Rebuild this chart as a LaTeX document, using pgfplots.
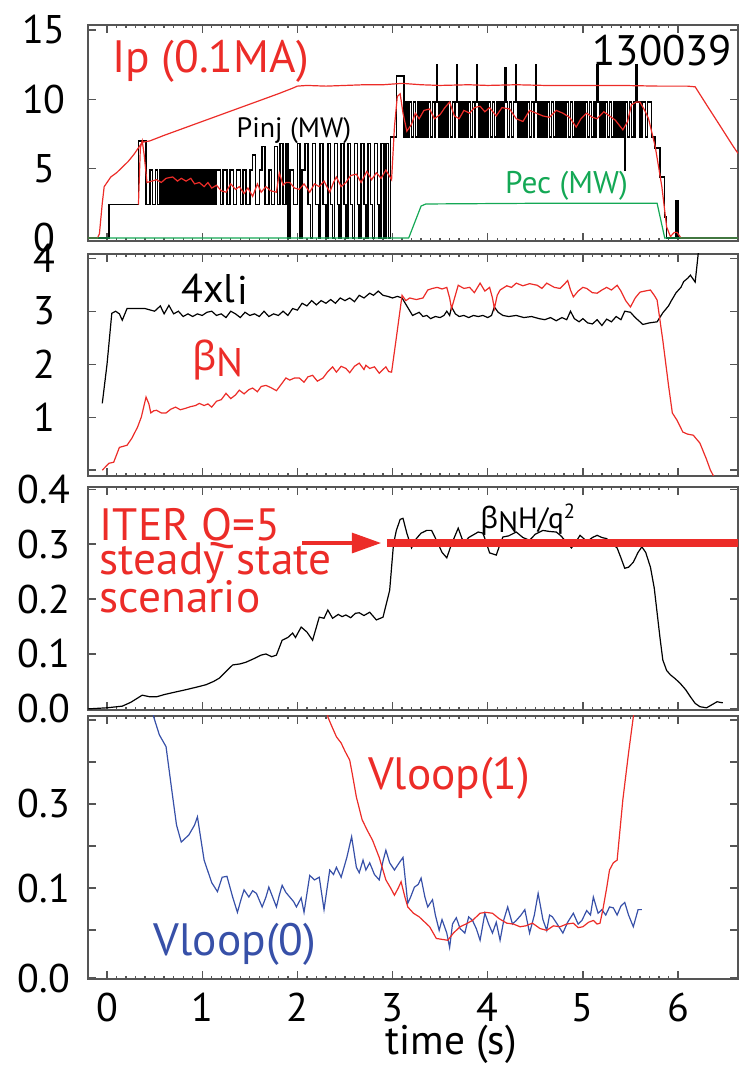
\documentclass[border=0pt]{standalone}
\usepackage{fontspec}
\setmainfont{PT Sans}
\newfontfamily\grk{Noto Sans}
\usepackage{pgfplots}
\pgfplotsset{compat=1.18}
\usetikzlibrary{arrows.meta}
\definecolor{ired}{RGB}{236,44,40}
\definecolor{igreen}{RGB}{20,168,85}
\definecolor{iblue}{RGB}{55,80,168}
\definecolor{frm}{RGB}{85,85,85}
\tikzset{lab/.style={inner sep=0pt, anchor=base west}}
\pgfplotsset{
  panel/.style={scale only axis, width=487.5pt, xmin=-0.2, xmax=6.63,
    axis line style={frm,line width=1.3pt},
    tick style={frm,line width=1pt},
    major tick length=6pt, minor tick length=2.5pt, tick align=inside,
    xtick={0,1,2,3,4,5,6}, minor x tick num=9, xticklabels={},
    /pgf/number format/assume math mode=true,
    tick label style={font=\fontsize{30}{32}\selectfont, black},
    yticklabel style={anchor=center, xshift=-33pt},
    every axis plot/.append style={line width=0.9pt},
  }
}
\begin{document}
\begin{tikzpicture}
\path[use as bounding box] (0pt,0pt) rectangle (555pt,798.75pt);
% ---------------- Panel 1 ----------------
\begin{axis}[panel, at={(66pt,780pt)}, anchor=north west, height=162pt,
  ymin=-0.22, ymax=15.36, ytick={0,5,10,15}, yticklabels={0,5,10,15}]
\addplot[black, const plot mark left, line width=1.15pt] coordinates {
(-0.2,0)(0.02,2.4)(0.33,7.0)(0.41,2.4)(0.45,4.9)(0.48,2.4)(0.51,4.9)(0.53,2.4)
(0.55,4.9)(0.565,2.4)(0.58,4.9)(0.595,2.4)(0.61,4.9)(0.625,2.4)(0.64,4.9)(0.655,2.4)
(0.67,4.9)(0.685,2.4)(0.70,4.9)(0.715,2.4)(0.73,4.9)(0.745,2.4)(0.76,4.9)(0.775,2.4)
(0.79,4.9)(0.805,2.4)(0.82,4.9)(0.835,2.4)(0.85,4.9)(0.865,2.4)(0.88,4.9)(0.895,2.4)
(0.91,4.9)(0.925,2.4)(0.94,4.9)(0.955,2.4)(0.97,4.9)(0.985,2.4)(1.00,4.9)(1.015,2.4)
(1.03,4.9)(1.045,2.4)(1.06,4.9)(1.075,2.4)(1.09,4.9)(1.105,2.4)(1.12,4.9)(1.135,2.4)
(1.15,4.9)(1.19,2.4)(1.22,4.9)(1.26,2.4)(1.29,4.9)(1.33,2.4)(1.36,4.9)(1.40,2.4)
(1.43,4.9)(1.46,2.4)(1.50,4.9)(1.53,6.0)(1.56,2.4)(1.60,4.9)(1.63,6.6)(1.66,2.4)
(1.70,4.9)(1.73,2.4)(1.76,6.6)(1.79,2.4)(1.82,6.8)(1.85,2.4)(1.88,6.8)(1.90,0)
(1.92,4.9)(1.96,2.4)(2.00,6.8)(2.03,0)(2.05,4.9)(2.08,6.8)(2.11,2.4)(2.14,0)
(2.16,6.8)(2.19,2.4)(2.22,0)(2.24,6.8)(2.27,2.4)(2.30,0)(2.32,6.8)(2.35,2.4)
(2.37,0)(2.39,6.8)(2.42,2.4)(2.44,0)(2.46,6.8)(2.49,2.4)(2.51,0)(2.53,6.8)
(2.56,2.4)(2.58,0)(2.60,6.8)(2.63,2.4)(2.65,0)(2.67,6.8)(2.70,2.4)(2.72,0)
(2.74,6.8)(2.77,2.4)(2.79,0)(2.81,6.8)(2.84,2.4)(2.86,0)(2.88,6.8)(2.91,0)
(2.93,6.8)(2.96,0)(2.98,7.3)(3.04,11.7)(3.12,7.3)(3.14,9.8)(3.16,7.3)(3.18,9.8)
(3.20,7.3)(3.22,9.8)(3.24,7.3)(3.26,9.8)(3.28,7.3)(3.30,9.8)(3.32,7.3)(3.34,9.8)
(3.36,7.3)(3.38,9.8)(3.40,7.3)(3.42,9.8)(3.44,7.3)(3.45,9.8)(3.46,12.5)(3.47,9.8)
(3.49,7.3)(3.51,9.8)(3.53,7.3)(3.55,9.8)(3.57,7.3)(3.59,9.8)(3.61,7.3)(3.63,9.8)
(3.65,7.3)(3.66,9.8)(3.67,12.5)(3.68,9.8)(3.70,7.3)(3.72,9.8)(3.74,7.3)(3.76,9.8)
(3.78,7.3)(3.80,9.8)(3.82,7.3)(3.84,9.8)(3.86,7.3)(3.87,9.8)(3.88,12.5)(3.89,9.8)
(3.91,7.3)(3.93,9.8)(3.95,7.3)(3.97,9.8)(3.99,7.3)(4.01,9.8)(4.03,7.3)(4.05,9.8)
(4.07,7.3)(4.09,9.8)(4.11,7.3)(4.13,9.8)(4.15,7.3)(4.17,9.8)(4.18,12.3)(4.19,9.8)
(4.21,7.3)(4.23,9.8)(4.25,7.3)(4.27,9.8)(4.29,12.5)(4.30,9.8)(4.32,7.3)(4.34,9.8)
(4.36,7.3)(4.38,9.8)(4.40,7.3)(4.42,9.8)(4.44,7.3)(4.46,9.8)(4.48,7.3)(4.49,9.8)
(4.50,12.5)(4.51,9.8)(4.53,7.3)(4.55,9.8)(4.57,7.3)(4.59,9.8)(4.61,7.3)(4.63,9.8)
(4.65,7.3)(4.67,9.8)(4.69,7.3)(4.71,9.8)(4.73,7.3)(4.75,9.8)(4.77,7.3)(4.79,9.8)
(4.81,7.3)(4.83,9.8)(4.85,7.3)(4.87,9.8)(4.89,7.3)(4.91,9.8)(4.93,7.3)(4.95,9.8)
(4.97,7.3)(4.99,9.8)(5.01,7.3)(5.03,9.8)(5.05,7.3)(5.07,9.8)(5.09,7.3)(5.11,9.8)
(5.13,7.3)(5.14,9.8)(5.15,12.5)(5.16,9.8)(5.18,7.3)(5.20,9.8)(5.22,7.3)(5.24,9.8)
(5.26,7.3)(5.28,9.8)(5.30,7.3)(5.32,9.8)(5.34,7.3)(5.36,9.8)(5.38,7.3)(5.40,9.8)
(5.42,7.3)(5.43,9.8)(5.44,4.9)(5.45,9.8)(5.47,7.3)(5.49,9.8)(5.51,7.3)(5.53,9.8)
(5.55,7.3)(5.555,9.8)(5.56,12.5)(5.57,9.8)(5.60,7.3)(5.62,9.8)(5.66,7.3)(5.68,9.8)
(5.72,7.3)(5.76,6.5)(5.81,4.4)(5.86,1.5)(5.88,0)(5.98,2.7)(6.00,0)(6.63,0)};
\addplot[ired] coordinates {
(0.33,2.4)(0.35,6.5)(0.37,7.0)(0.39,6.0)(0.42,4.0)(0.47,4.1)
(0.52,4.2)(0.57,4.0)(0.62,4.3)(0.69,4.4)(0.74,4.1)(0.78,4.3)(0.83,4.1)(0.88,4.3)
(0.92,3.9)(0.97,4.0)(1.02,3.7)(1.06,4.0)(1.1,3.6)(1.15,3.8)(1.2,3.4)(1.25,3.3)
(1.3,3.9)(1.35,3.5)(1.39,3.7)(1.44,3.2)(1.48,3.6)(1.53,3.0)(1.58,3.9)(1.62,3.3)
(1.67,3.7)(1.72,3.4)(1.78,3.3)(1.81,4.7)(1.85,3.8)(1.88,4.0)(1.92,4.0)(1.97,3.6)
(2.02,3.5)(2.07,3.9)(2.13,3.3)(2.18,3.9)(2.23,3.7)(2.28,4.1)(2.34,3.3)(2.38,4.0)
(2.41,4.4)(2.46,3.7)(2.51,4.0)(2.56,4.5)(2.62,4.6)(2.67,4.0)(2.73,4.8)(2.78,4.2)
(2.83,4.7)(2.88,4.3)(2.93,4.9)(2.99,4.2)(3.02,8.0)(3.05,10.2)(3.08,10.4)(3.11,9.0)
(3.15,7.7)(3.2,8.2)(3.24,9.0)(3.28,8.6)(3.33,9.2)(3.39,9.3)(3.44,8.6)(3.5,8.9)
(3.55,9.4)(3.6,9.8)(3.65,8.8)(3.7,8.6)(3.75,9.2)(3.81,9.0)(3.86,9.4)(3.92,9.5)
(3.97,9.1)(4.02,9.4)(4.09,8.8)(4.15,9.4)(4.23,9.3)(4.3,8.6)(4.37,8.4)(4.44,9.2)
(4.51,9.0)(4.58,8.8)(4.65,8.7)(4.72,9.2)(4.79,9.0)(4.86,8.7)(4.93,8.0)(4.98,8.6)
(5.04,9.0)(5.1,8.7)(5.15,8.6)(5.22,9.1)(5.28,8.8)(5.34,8.5)(5.42,7.8)(5.47,8.4)
(5.51,9.6)(5.56,9.8)(5.6,9.8)(5.65,9.2)(5.69,8.6)(5.76,6.6)(5.83,3.7)(5.88,0.8)
(5.92,0.1)(5.96,0.4)(5.99,0.4)(6.03,0.0)(6.63,0)};
\addplot[ired] coordinates {
(-0.2,0)(-0.1,0)(-0.08,0.3)(-0.05,2.5)(-0.03,3.7)(0.0,4.0)(0.04,4.4)(0.1,4.7)
(0.16,5.1)(0.22,5.5)(0.28,6.0)(0.32,6.4)(0.37,6.9)(0.45,7.0)(0.6,7.4)(0.8,7.9)
(1.0,8.4)(1.2,8.9)(1.4,9.4)(1.6,9.9)(1.8,10.4)(1.95,10.8)(2.0,10.95)(2.1,11.0)
(2.3,10.95)(2.5,11.0)(2.7,11.05)(2.9,11.05)(3.0,11.1)(3.1,11.15)(3.3,11.05)
(3.5,11.0)(3.8,11.05)(4.0,11.0)(4.3,11.05)(4.6,11.0)(5.0,11.0)(5.4,11.0)
(5.8,10.95)(6.1,10.95)(6.18,10.9)(6.3,9.6)(6.45,8.0)(6.58,6.6)(6.63,6.1)};
\addplot[igreen] coordinates {
(-0.2,0)(3.17,0)(3.3,2.3)(3.35,2.45)(4.5,2.5)(5.78,2.5)(5.86,0)(6.63,0)};
\node[lab, ired, font=\fontsize{34}{36}\selectfont] at (axis cs:0.05,11.9) {Ip (0.1MA)};
\node[inner sep=0pt, anchor=base east, black, font=\fontsize{32}{34}\selectfont] at (axis cs:6.57,12.47) {130039};
\node[lab, black, font=\fontsize{21}{23}\selectfont] at (axis cs:1.36,7.28) {Pinj (MW)};
\node[lab, igreen, font=\fontsize{23.5}{25}\selectfont] at (axis cs:4.18,3.24) {Pec (MW)};
\end{axis}
% ---------------- Panel 2 ----------------
\begin{axis}[panel, at={(66pt,608.25pt)}, anchor=north west, height=166.5pt,
  ymin=-0.11, ymax=4.08, ytick={0,1,2,3,4}, yticklabels={,1,2,3,4}]
\addplot[black] coordinates {
(-0.05,1.26)(0.0,2.0)(0.05,2.96)(0.09,3.0)(0.13,2.95)(0.16,2.83)(0.21,3.05)(0.3,3.05)
(0.4,3.05)(0.5,3.0)(0.56,3.1)(0.6,2.95)(0.65,3.11)(0.7,2.95)(0.75,3.0)(0.8,2.9)
(0.85,2.95)(0.9,2.9)(0.95,2.95)(1.0,2.92)(1.05,2.98)(1.1,3.0)(1.15,2.92)(1.2,2.95)
(1.25,2.88)(1.3,3.0)(1.35,2.95)(1.4,2.88)(1.45,2.98)(1.5,2.92)(1.55,2.95)(1.6,2.9)
(1.65,3.0)(1.7,2.9)(1.75,2.95)(1.8,2.92)(1.85,3.0)(1.9,2.92)(1.95,3.05)(2.0,3.02)
(2.05,3.15)(2.1,3.1)(2.15,3.2)(2.2,3.12)(2.25,3.2)(2.3,3.15)(2.35,3.22)(2.4,3.15)
(2.45,3.25)(2.5,3.2)(2.55,3.25)(2.6,3.18)(2.65,3.3)(2.7,3.25)(2.76,3.34)(2.8,3.3)
(2.85,3.38)(2.9,3.3)(2.95,3.28)(3.0,3.25)(3.05,3.28)(3.1,3.25)(3.15,3.1)(3.21,2.92)
(3.28,2.98)(3.32,2.9)(3.36,2.92)(3.4,2.86)(3.45,2.9)(3.5,2.88)(3.54,2.92)(3.57,3.0)
(3.6,2.92)(3.62,3.08)(3.66,2.95)(3.7,2.9)(3.75,2.92)(3.8,2.88)(3.85,2.92)(3.9,2.9)
(3.95,2.92)(4.0,2.88)(4.04,2.92)(4.07,3.08)(4.11,2.98)(4.16,2.92)(4.22,2.9)(4.3,2.92)
(4.38,2.88)(4.46,2.9)(4.54,2.86)(4.6,2.84)(4.66,2.88)(4.72,2.82)(4.78,2.88)(4.83,2.84)
(4.87,3.0)(4.91,2.86)(4.96,2.8)(5.0,2.86)(5.05,2.78)(5.1,2.76)(5.15,2.84)(5.2,2.73)
(5.25,2.85)(5.3,2.8)(5.35,2.9)(5.4,2.84)(5.44,3.0)(5.5,2.98)(5.55,2.88)(5.6,2.8)
(5.63,2.75)(5.7,2.78)(5.78,2.8)(5.84,2.97)(5.9,3.1)(5.93,3.2)(5.98,3.35)(6.03,3.45)
(6.06,3.56)(6.1,3.62)(6.13,3.68)(6.18,3.55)(6.21,4.05)(6.23,4.5)};
\addplot[ired] coordinates {
(-0.05,0.0)(0.02,0.13)(0.07,0.15)(0.13,0.43)(0.17,0.45)(0.21,0.47)(0.26,0.6)(0.32,0.81)
(0.36,1.0)(0.41,1.38)(0.44,1.25)(0.46,1.08)(0.49,1.12)(0.52,1.13)(0.57,1.08)(0.62,1.08)
(0.67,1.15)(0.72,1.19)(0.77,1.14)(0.83,1.17)(0.88,1.2)(0.93,1.22)(0.97,1.26)(1.02,1.22)
(1.06,1.25)(1.1,1.19)(1.15,1.3)(1.2,1.33)(1.25,1.45)(1.3,1.35)(1.35,1.42)(1.39,1.51)
(1.44,1.44)(1.49,1.52)(1.53,1.55)(1.58,1.48)(1.62,1.58)(1.67,1.6)(1.72,1.56)(1.78,1.5)
(1.83,1.62)(1.88,1.74)(1.92,1.7)(1.97,1.74)(2.02,1.74)(2.07,1.66)(2.11,1.76)(2.16,1.79)
(2.21,1.68)(2.27,1.74)(2.32,1.86)(2.37,1.95)(2.41,1.85)(2.46,1.96)(2.51,1.92)(2.55,1.84)
(2.6,1.96)(2.65,2.02)(2.7,1.9)(2.72,1.98)(2.76,1.92)(2.81,1.95)(2.86,1.83)(2.9,1.9)
(2.93,1.95)(2.96,1.86)(2.99,1.85)(3.04,2.5)(3.1,3.3)(3.14,3.2)(3.18,3.25)(3.25,3.22)
(3.32,3.25)(3.37,3.4)(3.42,3.43)(3.47,3.45)(3.52,3.42)(3.57,3.45)(3.6,3.25)(3.62,3.05)
(3.66,3.3)(3.69,3.49)(3.75,3.43)(3.81,3.45)(3.86,3.35)(3.92,3.53)(3.97,3.38)(4.02,3.45)
(4.05,3.25)(4.07,3.05)(4.1,3.3)(4.13,3.4)(4.2,3.48)(4.25,3.45)(4.3,3.53)(4.37,3.48)
(4.44,3.52)(4.52,3.49)(4.57,3.43)(4.62,3.53)(4.7,3.45)(4.76,3.43)(4.8,3.5)(4.84,3.58)
(4.87,3.4)(4.9,3.27)(4.95,3.38)(5.0,3.45)(5.04,3.43)(5.1,3.35)(5.15,3.34)(5.2,3.4)
(5.25,3.45)(5.3,3.4)(5.36,3.49)(5.4,3.38)(5.45,3.2)(5.5,3.08)(5.55,3.25)(5.6,3.36)
(5.65,3.38)(5.71,3.4)(5.75,3.3)(5.78,3.21)(5.84,2.45)(5.9,1.6)(5.94,1.08)(5.99,0.94)
(6.05,0.72)(6.1,0.68)(6.16,0.66)(6.23,0.51)(6.3,0.2)(6.34,0.0)(6.4,-0.2)};
\node[lab, black, font=\fontsize{30}{32}\selectfont] at (axis cs:0.78,3.17) {4xl\kern1.5pt\raisebox{-1.5pt}{i}};
\node[lab, ired, font=\fontsize{30}{32}\selectfont] at (axis cs:0.89,1.89) {{\grk β}\raisebox{-5pt}{N}};
\end{axis}
% ---------------- Panel 3 ----------------
\begin{axis}[panel, at={(66pt,433.5pt)}, anchor=north west, height=167.25pt,
  ymin=-0.002, ymax=0.404, ytick={0,0.1,0.2,0.3,0.4}, yticklabels={0.0,0.1,0.2,0.3,0.4}]
\addplot[black] coordinates {
(-0.2,0.0)(0.0,0.002)(0.16,0.005)(0.25,0.012)(0.37,0.025)(0.45,0.022)(0.52,0.022)
(0.6,0.026)(0.7,0.03)(0.83,0.035)(0.95,0.04)(1.04,0.044)(1.12,0.05)(1.18,0.056)
(1.25,0.068)(1.32,0.08)(1.4,0.082)(1.46,0.085)(1.55,0.092)(1.62,0.098)(1.67,0.1)
(1.73,0.095)(1.78,0.098)(1.84,0.125)(1.9,0.13)(1.95,0.138)(1.98,0.13)(2.04,0.149)
(2.1,0.14)(2.16,0.125)(2.23,0.167)(2.28,0.165)(2.32,0.18)(2.37,0.165)(2.43,0.172)
(2.47,0.168)(2.51,0.171)(2.56,0.166)(2.61,0.174)(2.65,0.175)(2.7,0.17)(2.76,0.176)
(2.83,0.162)(2.9,0.167)(2.97,0.216)(3.01,0.3)(3.04,0.325)(3.08,0.345)(3.11,0.347)
(3.15,0.32)(3.2,0.293)(3.25,0.31)(3.3,0.32)(3.36,0.325)(3.41,0.325)(3.47,0.304)
(3.52,0.285)(3.57,0.275)(3.62,0.3)(3.69,0.329)(3.73,0.31)(3.76,0.304)(3.8,0.312)
(3.84,0.316)(3.9,0.322)(3.95,0.32)(3.99,0.3)(4.02,0.284)(4.09,0.28)(4.13,0.3)
(4.16,0.313)(4.22,0.315)(4.3,0.322)(4.37,0.312)(4.44,0.307)(4.5,0.318)(4.58,0.325)
(4.65,0.323)(4.72,0.322)(4.77,0.315)(4.81,0.307)(4.88,0.293)(4.93,0.305)(4.97,0.316)
(5.01,0.31)(5.04,0.304)(5.1,0.312)(5.15,0.316)(5.2,0.312)(5.25,0.31)(5.31,0.3)
(5.36,0.293)(5.4,0.275)(5.44,0.256)(5.48,0.258)(5.53,0.267)(5.58,0.285)(5.62,0.295)
(5.66,0.285)(5.71,0.258)(5.75,0.22)(5.78,0.175)(5.81,0.13)(5.84,0.089)(5.88,0.07)
(5.92,0.062)(5.97,0.055)(6.02,0.047)(6.08,0.035)(6.13,0.022)(6.18,0.01)(6.23,0.004)
(6.3,0.002)(6.36,0.008)(6.41,0.013)(6.47,0.011)};
\addplot[ired, line width=6pt] coordinates {(2.94,0.302)(6.7,0.302)};
\addplot[ired, line width=2.5pt, -{Triangle[length=22pt,width=15pt]}] coordinates {(2.05,0.302)(2.88,0.302)};
\node[lab, ired, font=\fontsize{34}{36}\selectfont] at (axis cs:-0.08,0.307) {ITER Q=5};
\node[lab, ired, font=\fontsize{34}{36}\selectfont] at (axis cs:-0.08,0.244) {steady state};
\node[lab, ired, font=\fontsize{34}{36}\selectfont] at (axis cs:-0.08,0.175) {scenario};
\node[lab, black, font=\fontsize{22}{24}\selectfont] at (axis cs:3.92,0.329) {{\grk β}\raisebox{-3.5pt}{N}H/q\textsuperscript{2}};
\end{axis}
% ---------------- Panel 4 ----------------
\begin{axis}[panel, at={(66pt,261.75pt)}, anchor=north west, height=197.25pt,
  ymin=-0.001, ymax=0.291,
  ytick={0,0.05333,0.1,0.14667,0.19333,0.24,0.28667}, yticklabels={0.0,,0.1,,0.3,,},
  xticklabels={0,1,2,3,4,5,6},
  xticklabel style={anchor=base, yshift=-32pt, inner sep=0pt},
  xlabel={time (s)},
  xlabel style={at={(axis description cs:0.559,0)}, anchor=base, yshift=-57pt, inner sep=0pt, font=\fontsize{31}{33}\selectfont}]
\addplot[iblue] coordinates {
(0.45,0.34)(0.49,0.29)(0.55,0.27)(0.62,0.257)(0.68,0.209)(0.73,0.17)(0.78,0.151)
(0.86,0.159)(0.92,0.17)(0.95,0.179)(1.02,0.131)(1.1,0.106)(1.16,0.096)(1.21,0.112)
(1.26,0.113)(1.32,0.09)(1.37,0.073)(1.41,0.088)(1.44,0.098)(1.49,0.09)(1.53,0.097)
(1.57,0.094)(1.63,0.079)(1.67,0.09)(1.7,0.101)(1.74,0.09)(1.78,0.079)(1.81,0.092)
(1.84,0.103)(1.88,0.095)(1.92,0.09)(1.96,0.085)(1.99,0.079)(2.04,0.089)(2.07,0.073)
(2.13,0.114)(2.18,0.109)(2.23,0.112)(2.28,0.076)(2.34,0.12)(2.38,0.115)(2.41,0.123)
(2.46,0.112)(2.52,0.134)(2.57,0.157)(2.62,0.123)(2.65,0.117)(2.69,0.131)(2.72,0.12)
(2.76,0.128)(2.81,0.115)(2.86,0.109)(2.9,0.13)(2.93,0.142)(2.97,0.128)(3.02,0.12)
(3.07,0.128)(3.11,0.134)(3.16,0.083)(3.19,0.09)(3.23,0.101)(3.27,0.104)(3.3,0.111)
(3.34,0.09)(3.37,0.079)(3.42,0.087)(3.45,0.07)(3.49,0.053)(3.52,0.065)(3.57,0.05)
(3.6,0.034)(3.63,0.06)(3.67,0.067)(3.71,0.055)(3.76,0.05)(3.8,0.068)(3.84,0.064)
(3.88,0.055)(3.92,0.042)(3.97,0.072)(4.01,0.06)(4.05,0.05)(4.09,0.062)(4.13,0.042)
(4.17,0.065)(4.21,0.079)(4.26,0.06)(4.3,0.064)(4.35,0.07)(4.39,0.076)(4.44,0.05)
(4.49,0.07)(4.53,0.094)(4.58,0.065)(4.62,0.053)(4.65,0.07)(4.68,0.068)(4.73,0.06)
(4.79,0.05)(4.84,0.062)(4.9,0.072)(4.95,0.06)(4.99,0.064)(5.04,0.075)(5.08,0.07)
(5.11,0.09)(5.16,0.072)(5.2,0.076)(5.24,0.07)(5.28,0.079)(5.32,0.078)(5.36,0.07)
(5.4,0.08)(5.44,0.084)(5.48,0.07)(5.53,0.057)(5.58,0.076)(5.62,0.076)};
\addplot[ired] coordinates {
(2.3,0.33)(2.32,0.29)(2.36,0.28)(2.41,0.268)(2.46,0.261)(2.5,0.252)(2.55,0.242)
(2.58,0.225)(2.62,0.201)(2.68,0.176)(2.73,0.165)(2.79,0.153)(2.86,0.134)(2.93,0.109)
(2.98,0.1)(3.02,0.092)(3.06,0.1)(3.09,0.107)(3.13,0.09)(3.16,0.079)(3.22,0.072)
(3.28,0.068)(3.33,0.063)(3.39,0.057)(3.46,0.044)(3.52,0.043)(3.58,0.042)(3.64,0.05)
(3.71,0.057)(3.77,0.06)(3.84,0.064)(3.92,0.072)(3.98,0.073)(4.05,0.072)(4.12,0.066)
(4.2,0.061)(4.27,0.06)(4.34,0.057)(4.4,0.058)(4.47,0.061)(4.55,0.055)(4.62,0.053)
(4.69,0.058)(4.76,0.057)(4.83,0.06)(4.9,0.061)(4.95,0.056)(5.0,0.057)(5.06,0.062)
(5.11,0.064)(5.15,0.06)(5.18,0.061)(5.21,0.076)(5.25,0.1)(5.28,0.12)(5.32,0.128)
(5.36,0.131)(5.42,0.198)(5.48,0.25)(5.53,0.29)(5.57,0.33)};
\node[lab, ired, font=\fontsize{34}{36}\selectfont] at (axis cs:2.74,0.209) {Vloop(1)};
\node[lab, iblue, font=\fontsize{34}{36}\selectfont] at (axis cs:0.49,0.0256) {Vloop(0)};
\end{axis}
\end{tikzpicture}
\end{document}
